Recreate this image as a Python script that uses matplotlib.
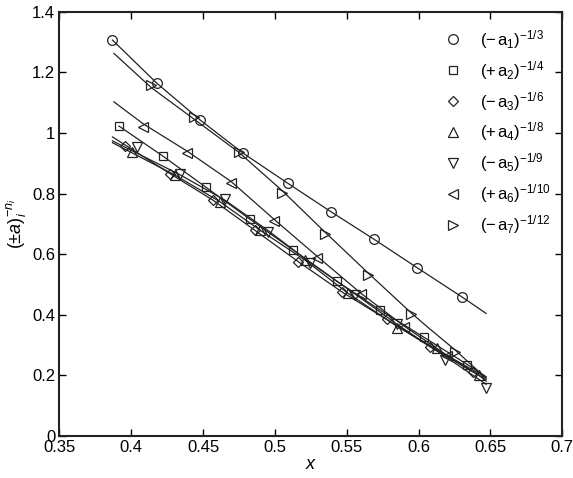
import matplotlib
matplotlib.use('Agg')
import matplotlib.pyplot as plt
import numpy as np

plt.rcParams['font.family'] = ['Liberation Sans', 'DejaVu Sans']
plt.rcParams['mathtext.fontset'] = 'custom'
plt.rcParams['mathtext.rm'] = 'Liberation Sans'
plt.rcParams['mathtext.it'] = 'Liberation Sans:italic'
plt.rcParams['mathtext.sf'] = 'Liberation Sans'

# --- data ---
labels = [r'$(-\,\mathrm{a}_1)^{-1/3}$', r'$(+\,\mathrm{a}_2)^{-1/4}$',
          r'$(-\,\mathrm{a}_3)^{-1/6}$', r'$(+\,\mathrm{a}_4)^{-1/8}$',
          r'$(-\,\mathrm{a}_5)^{-1/9}$', r'$(+\,\mathrm{a}_6)^{-1/10}$',
          r'$(-\,\mathrm{a}_7)^{-1/12}$']
markers = ['o', 's', 'D', '^', 'v', '<', '>']

# marker points
a1_x = [0.387, 0.418, 0.448, 0.478, 0.509, 0.539, 0.569, 0.599, 0.630]
a1_y = [1.307, 1.164, 1.043, 0.933, 0.834, 0.740, 0.649, 0.555, 0.459]
a2_x = [0.3915, 0.422, 0.452, 0.4827, 0.5129, 0.543, 0.5732, 0.6038, 0.634]
a2_y = [1.023, 0.924, 0.821, 0.715, 0.613, 0.511, 0.415, 0.325, 0.235]
a3_x = [0.3957, 0.427, 0.457, 0.486, 0.5163, 0.5465, 0.5778, 0.608, 0.638]
a3_y = [0.957, 0.866, 0.778, 0.679, 0.575, 0.4755, 0.384, 0.294, 0.210]
a4_x = [0.4004, 0.4305, 0.4618, 0.4897, 0.521, 0.551, 0.5848, 0.6126, 0.642]
a4_y = [0.938, 0.861, 0.773, 0.679, 0.580, 0.470, 0.355, 0.289, 0.200]
a5_x = [0.4039, 0.434, 0.4653, 0.4955, 0.5245, 0.5558, 0.585, 0.6184, 0.647]
a5_y = [0.954, 0.866, 0.781, 0.674, 0.569, 0.465, 0.370, 0.250, 0.157]
a6_x = [0.4085, 0.439, 0.4695, 0.4994, 0.5296, 0.560, 0.590, 0.620]
a6_y = [1.020, 0.933, 0.834, 0.709, 0.588, 0.468, 0.360, 0.262]
a7_x = [0.414, 0.444, 0.475, 0.505, 0.535, 0.565, 0.595, 0.625]
a7_y = [1.158, 1.054, 0.938, 0.803, 0.665, 0.531, 0.401, 0.278]

# fitted curves
fit1_x = [0.387, 0.418, 0.448, 0.478, 0.509, 0.539, 0.569, 0.599, 0.630, 0.647]
fit1_y = [1.307, 1.164, 1.043, 0.933, 0.834, 0.740, 0.649, 0.555, 0.459, 0.404]
fit2_x = [0.3915, 0.422, 0.452, 0.4827, 0.5129, 0.543, 0.5732, 0.6038, 0.634, 0.647]
fit2_y = [1.023, 0.924, 0.821, 0.715, 0.613, 0.511, 0.415, 0.325, 0.235, 0.195]
fit3_x = [0.387, 0.427, 0.457, 0.486, 0.5163, 0.5465, 0.5778, 0.608, 0.638, 0.647]
fit3_y = [0.987, 0.866, 0.778, 0.679, 0.575, 0.4755, 0.384, 0.294, 0.210, 0.185]
fit4_x = [0.387, 0.4305, 0.4618, 0.4897, 0.521, 0.551, 0.5848, 0.6126, 0.642, 0.647]
fit4_y = [0.968, 0.861, 0.773, 0.679, 0.580, 0.470, 0.362, 0.285, 0.200, 0.180]
fit5_x = [0.387, 0.434, 0.4653, 0.4955, 0.5245, 0.5558, 0.585, 0.6184, 0.647]
fit5_y = [0.974, 0.862, 0.778, 0.677, 0.572, 0.468, 0.368, 0.262, 0.170]
fit6_x = [0.388, 0.4085, 0.439, 0.4695, 0.4994, 0.5296, 0.560, 0.590, 0.620, 0.647]
fit6_y = [1.103, 1.030, 0.940, 0.840, 0.715, 0.592, 0.470, 0.362, 0.265, 0.192]
fit7_x = [0.388, 0.414, 0.444, 0.475, 0.505, 0.535, 0.565, 0.595, 0.606, 0.625, 0.647]
fit7_y = [1.263, 1.150, 1.045, 0.936, 0.810, 0.672, 0.537, 0.405, 0.360, 0.285, 0.190]

pts = [(a1_x, a1_y), (a2_x, a2_y), (a3_x, a3_y), (a4_x, a4_y),
       (a5_x, a5_y), (a6_x, a6_y), (a7_x, a7_y)]
fits = [(fit1_x, fit1_y), (fit2_x, fit2_y), (fit3_x, fit3_y), (fit4_x, fit4_y),
        (fit5_x, fit5_y), (fit6_x, fit6_y), (fit7_x, fit7_y)]

col = '#222222'
fig = plt.figure(figsize=(5.73, 4.78), dpi=100)
ax = fig.add_axes([0.1035, 0.0885, 0.8778, 0.8865])

for (fx, fy) in fits:
    ax.plot(fx, fy, '-', color=col, lw=0.9)

msz = {'o': 7, 's': 6, 'D': 5.5, '^': 7, 'v': 7, '<': 7, '>': 7}
for (px, py), m, lab in zip(pts, markers, labels):
    ax.plot(px, py, linestyle='none', marker=m, markersize=msz[m],
            markerfacecolor='none', markeredgecolor=col, markeredgewidth=0.9,
            label=lab)

ax.set_xlim(0.35, 0.7)
ax.set_ylim(0, 1.4)
ax.set_xticks(np.arange(0.35, 0.701, 0.05))
ax.set_xticklabels(['0.35', '0.4', '0.45', '0.5', '0.55', '0.6', '0.65', '0.7'])
ax.set_yticks(np.arange(0, 1.41, 0.2))
ax.set_yticklabels(['0', '0.2', '0.4', '0.6', '0.8', '1', '1.2', '1.4'])
ax.tick_params(direction='in', top=True, right=True, labelsize=12, length=5,
               width=1.0, pad=3)
for s in ax.spines.values():
    s.set_linewidth(1.5)
    s.set_color(col)

ax.set_xlabel(r'$x$', fontsize=13, labelpad=1)
ax.set_ylabel(r'$(\pm a)_i^{-n_i}$', fontsize=13, labelpad=2)

ax.legend(loc='upper right', frameon=False, fontsize=12, handlelength=1.2,
          handletextpad=1.0, labelspacing=0.48, borderaxespad=0.3,
          bbox_to_anchor=(1.0, 0.99))

fig.savefig('out.png', dpi=100)
